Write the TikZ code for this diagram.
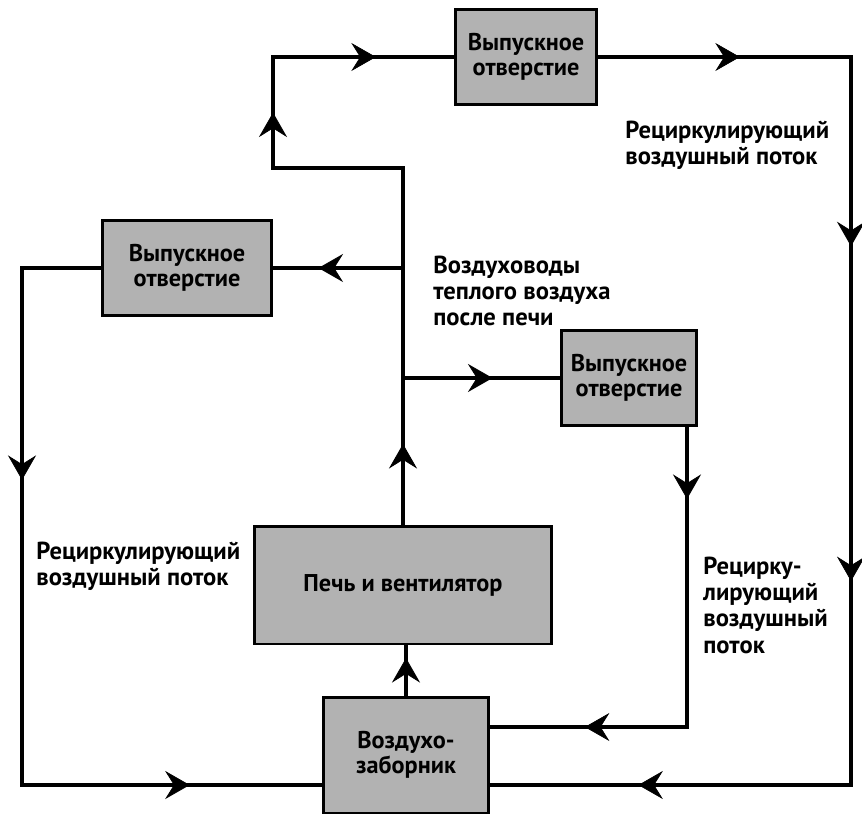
\documentclass[tikz,border=0pt]{standalone}
\usepackage{fontspec}
\setmainfont{PT Sans}
\usetikzlibrary{arrows.meta,decorations.markings}

\begin{document}
\begin{tikzpicture}[
        x=0.02cm, y=-0.02cm,
        vent/.style={rectangle, draw, line width=1.7pt, fill=black!30, font=\bfseries\fontsize{13.8}{14}\selectfont, align=center, minimum height=1.9cm, inner sep=0pt},
        duct/.style={line width=2.6pt, line cap=rect},
        lbl/.style={anchor=west, align=left, font=\bfseries\fontsize{14}{15}\selectfont, inner sep=0pt},
        flow/.style={postaction={decorate, decoration={markings, mark=at position #1 with {\arrow[line width=0.4pt]{Stealth[length=14pt, width=16pt, inset=5pt]}}}}}
    ]
    \useasboundingbox (0,0) rectangle (862,815);
    % boxes
    \node[vent, minimum width=2.84cm] (outTop) at (526,57) {Выпускное\\отверстие};
    \node[vent, minimum width=3.38cm] (outLeft) at (187,268) {Выпускное\\отверстие};
    \node[vent, minimum width=2.7cm] (outMid) at (629,378) {Выпускное\\отверстие};
    \node[vent, minimum width=5.96cm, minimum height=2.36cm] (furnace) at (403,585) {Печь и вентилятор};
    \node[vent, minimum width=3.32cm, minimum height=2.32cm] (intake) at (406,755) {Воздухо-\\заборник};
    % corners of the ducts
    \coordinate (jMid) at (403,378);
    \coordinate (jLeft) at (403,268);
    \coordinate (jTop) at (403,168);
    \coordinate (kTop) at (273,168);
    \coordinate (kUp) at (273,57);
    \coordinate (rTop) at (851,57);
    \coordinate (rBot) at (851,785);
    \coordinate (lTop) at (22,268);
    \coordinate (lBot) at (22,785);
    \coordinate (mBot) at (687,727);
    % warm air
    \draw[duct, flow=0.55] (furnace.north) -- (jMid);
    \draw[duct] (jMid) -- (jTop);
    \draw[duct] (jTop) -- (kTop);
    \draw[duct, flow=0.5] (kTop) -- (kUp);
    \draw[duct, flow=0.57] (kUp) -- (outTop.west);
    \draw[duct, flow=0.65] (jLeft) -- (outLeft.east);
    \draw[duct, flow=0.57] (jMid) -- (outMid.west);
    % return air
    \draw[duct, flow=0.56] (outTop.east) -- (rTop);
    \draw[duct, flow=0.26, flow=0.72] (rTop) -- (rBot);
    \draw[duct, flow=0.59] (rBot) -- (rBot -| intake.east);
    \draw[duct] (outLeft.west) -- (lTop);
    \draw[duct, flow=0.41] (lTop) -- (lBot);
    \draw[duct, flow=0.56] (lBot) -- (lBot -| intake.west);
    \draw[duct, flow=0.24] (outMid.south -| mBot) -- (mBot);
    \draw[duct, flow=0.52] (mBot) -- (mBot -| intake.east);
    \draw[duct, flow=0.75] (intake.north) -- (intake.north |- furnace.south);
    % labels
    \node[lbl] (lblTop) at (625,145) {Рециркулирующий\\воздушный поток};
    \node[lbl] (lblDuct) at (433,291) {Воздуховоды\\теплого воздуха\\после печи};
    \node[lbl] (lblLeft) at (36,566) {Рециркулирующий\\воздушный поток};
    \node[lbl] (lblRight) at (703,605) {Рецирку-\\лирующий\\воздушный\\поток};
\end{tikzpicture}
\end{document}
